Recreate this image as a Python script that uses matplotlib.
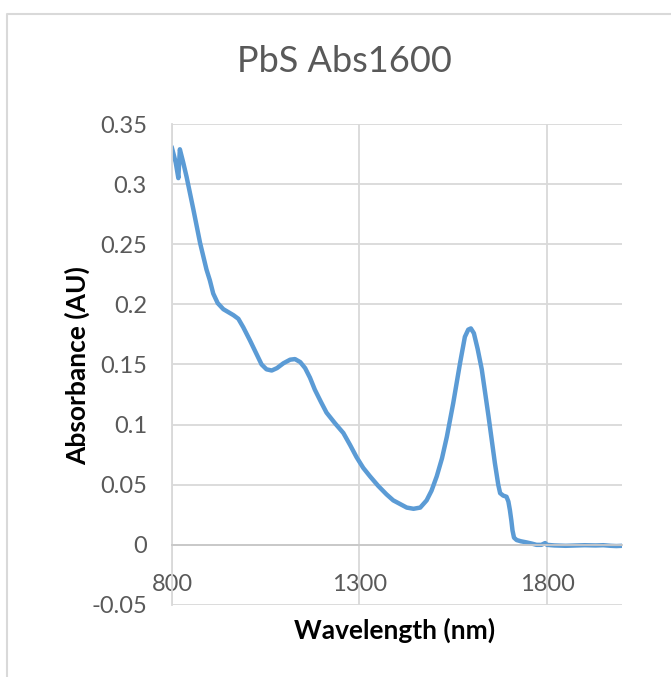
import matplotlib.pyplot as plt
from matplotlib.lines import Line2D

# Absorbance spectrum
wavelength = [800, 810, 817, 821, 830, 839, 857, 875, 892, 901, 910, 922, 937,
              964, 977, 990, 1008, 1025, 1039, 1052, 1066, 1080, 1097, 1115,
              1128, 1142, 1155, 1168, 1181, 1197, 1212, 1235, 1257, 1275, 1292,
              1310, 1328, 1350, 1372, 1390, 1408, 1426, 1444, 1462, 1479, 1492,
              1506, 1520, 1533, 1550, 1568, 1581, 1590, 1597, 1605, 1615, 1626,
              1644, 1661, 1670, 1675, 1683, 1692, 1697, 1701, 1705, 1708, 1712,
              1719, 1730, 1746, 1760, 1772, 1785, 1795, 1800, 1820, 1850, 1880,
              1900, 1930, 1950, 1970, 1985, 2000]
absorbance = [0.330, 0.318, 0.305, 0.329, 0.318, 0.306, 0.279, 0.251, 0.229,
              0.220, 0.209, 0.201, 0.196, 0.191, 0.188, 0.181, 0.170, 0.159,
              0.150, 0.146, 0.145, 0.147, 0.151, 0.154, 0.1545, 0.152, 0.147,
              0.139, 0.129, 0.119, 0.110, 0.101, 0.093, 0.083, 0.073, 0.064,
              0.057, 0.049, 0.042, 0.037, 0.034, 0.031, 0.030, 0.031, 0.037,
              0.045, 0.057, 0.072, 0.090, 0.118, 0.151, 0.173, 0.179, 0.180,
              0.176, 0.163, 0.146, 0.107, 0.068, 0.050, 0.043, 0.041, 0.040,
              0.036, 0.029, 0.020, 0.012, 0.006, 0.004, 0.003, 0.002, 0.001,
              0.000, 0.000, 0.0015, 0.000, -0.0005, -0.0008, -0.0005, -0.0003,
              -0.0005, -0.0003, -0.0008, -0.0010, -0.0008]

x_ticks = [800, 1300, 1800]
y_ticks = [-0.05, 0, 0.05, 0.1, 0.15, 0.2, 0.25, 0.3, 0.35]
y_tick_labels = ['-0.05', '0', '0.05', '0.1', '0.15', '0.2', '0.25', '0.3', '0.35']

plt.rcParams['font.family'] = ['Lato', 'DejaVu Sans']

fig = plt.figure(figsize=(6.71, 6.77), dpi=100)
ax = fig.add_axes([0.2563, 0.1064, 0.6707, 0.7104])

grid_col = '#d9d9d9'
text_col = '#595959'

ax.plot(wavelength, absorbance, color='#5b9bd5', lw=3.2, solid_joinstyle='round')

ax.set_xlim(800, 2000)
ax.set_ylim(-0.05, 0.35)
ax.set_xticks(x_ticks)
ax.set_yticks(y_ticks)
ax.set_yticklabels(y_tick_labels)
ax.grid(True, color=grid_col, lw=1.3)
ax.set_axisbelow(True)

for s in ['top', 'right']:
    ax.spines[s].set_visible(False)
ax.spines['left'].set_color(grid_col)
ax.spines['left'].set_linewidth(1.3)
# x labels sit under the zero line, like in Excel
ax.spines['bottom'].set_position(('data', 0))
ax.spines['bottom'].set_color('#c8c8c8')
ax.spines['bottom'].set_linewidth(1.3)

ax.tick_params(axis='both', length=0, labelsize=17, labelcolor=text_col)
ax.tick_params(axis='x', pad=21)
ax.tick_params(axis='y', pad=18)

fig.text(344 / 671, 1 - 62 / 677, 'PbS Abs1600', ha='center', va='center',
         fontsize=26, color=text_col)
fig.text(395 / 671, 1 - 630 / 677, 'Wavelength (nm)', ha='center', va='center',
         fontsize=19, fontweight='bold', color='black')
fig.text(77 / 671, 1 - 366 / 677, 'Absorbance (AU)', ha='center', va='center',
         rotation=90, fontsize=19, fontweight='bold', color='black')

# chart area border (left and top edges visible)
fig.add_artist(Line2D([7 / 671, 7 / 671, 1.0], [0.0, 1 - 14 / 677, 1 - 14 / 677],
                      transform=fig.transFigure, color=grid_col, lw=1.5))

fig.savefig('out.png', dpi=100)
